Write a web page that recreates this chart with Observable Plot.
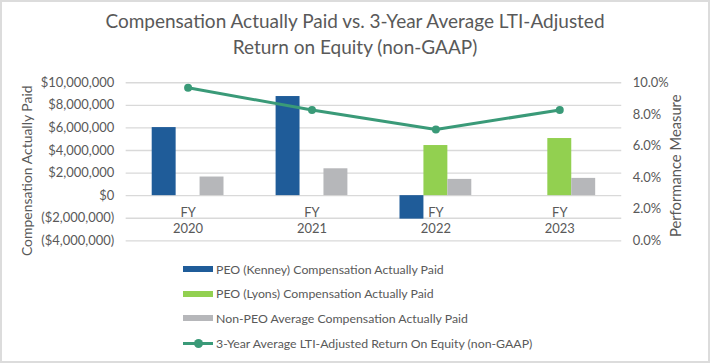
<!DOCTYPE html>
<html>
<head>
<meta charset="utf-8">
<script src="https://cdn.jsdelivr.net/npm/d3@7"></script>
<script src="https://cdn.jsdelivr.net/npm/@observablehq/plot@0.6"></script>
<style>
  html, body { margin: 0; padding: 0; background: #fff; }
  #wrap { position: relative; width: 710px; height: 363px; box-sizing: border-box; border: 2px solid #dcdcdc; overflow: hidden; font-family: Lato, sans-serif; color: #595959; }
  #title { position: absolute; left: 0; top: 6px; width: 706px; text-align: center; font-size: 19px; line-height: 26px; color: #595959; }
  #chart { position: absolute; left: -2px; top: -2px; }
  #legend { position: absolute; left: 181px; top: 255px; font-size: 12.3px; color: #595959; }
  .row { position: relative; height: 24.6px; display: flex; align-items: center; }
  .sw { width: 30px; height: 6px; margin-right: 3px; }
  .ln { width: 30px; height: 3px; margin-right: 3px; position: relative; }
  .ln::after { content: ""; position: absolute; left: 11px; top: -3px; width: 9px; height: 9px; border-radius: 50%; background: inherit; }
</style>
</head>
<body>
<div id="wrap">
  <div id="title">Compensation Actually Paid vs. 3-Year Average LTI-Adjusted<br>Return on Equity (non-GAAP)</div>
  <div id="chart"></div>
  <div id="legend"></div>
</div>
<script>
const years = ["2020", "2021", "2022", "2023"];
const kenney = [6030000, 8780000, -2080000, null];
const lyons = [null, null, 4440000, 5060000];
const nonPeo = [1650000, 2380000, 1440000, 1530000];
const roe = [9.68, 8.28, 7.04, 8.28];
const moneyTicks = [-4000000, -2000000, 0, 2000000, 4000000, 6000000, 8000000, 10000000];
const pctTicks = [0, 2, 4, 6, 8, 10];
const seriesNames = [
  "PEO (Kenney) Compensation Actually Paid",
  "PEO (Lyons) Compensation Actually Paid",
  "Non-PEO Average Compensation Actually Paid",
  "3-Year Average LTI-Adjusted Return On Equity (non-GAAP)"
];
const colors = ["#1f5c99", "#92d050", "#b6b7ba", "#3a9a78"];

const yMin = -4000000, yMax = 10000000;
const pctMin = 0, pctMax = 10;
const pctToMoney = p => yMin + (p - pctMin) / (pctMax - pctMin) * (yMax - yMin);
const moneyToPct = v => pctMin + (v - yMin) / (yMax - yMin) * (pctMax - pctMin);

const W = 710, H = 252;
const mL = 126, mR = 87, mT = 82.5, mB = 11;
const bw = (W - mL - mR) / years.length;
const barW = 24;

const rows = years.map((y, i) => ({year: y, kenney: kenney[i], lyons: lyons[i], nonPeo: nonPeo[i], roe: roe[i]}));
const money = d3.format(",");
const fmtMoney = v => v < 0 ? `($${money(-v)})` : `$${money(v)}`;

const chart = Plot.plot({
  width: W, height: H,
  marginLeft: mL, marginRight: mR, marginTop: mT, marginBottom: mB,
  style: {fontFamily: "Lato, sans-serif", fontSize: "13px", color: "#595959", background: "transparent", overflow: "visible"},
  x: {domain: years, padding: 0, round: false, axis: null},
  y: {domain: [yMin, yMax], axis: null},
  marks: [
    Plot.ruleY(moneyTicks, {stroke: "#d9d9d9", strokeWidth: 1.3}),
    Plot.barY(rows.filter(d => d.kenney != null), {x: "year", y: "kenney", fill: colors[0],
      insetLeft: bw / 2 - 1.5 * barW, insetRight: bw / 2 + 0.5 * barW}),
    Plot.barY(rows.filter(d => d.lyons != null), {x: "year", y: "lyons", fill: colors[1],
      insetLeft: bw / 2 - 0.5 * barW, insetRight: bw / 2 - 0.5 * barW}),
    Plot.barY(rows.filter(d => d.nonPeo != null), {x: "year", y: "nonPeo", fill: colors[2],
      insetLeft: bw / 2 + 0.5 * barW, insetRight: bw / 2 - 1.5 * barW}),
    Plot.axisY(moneyTicks, {anchor: "left", tickSize: 0, tickPadding: 12, tickFormat: fmtMoney, label: null, fontSize: 13}),
    Plot.axisY(pctTicks.map(pctToMoney), {anchor: "right", tickSize: 0, tickPadding: 11,
      tickFormat: v => moneyToPct(v).toFixed(1) + "%", label: null, fontSize: 13}),
    Plot.text(rows, {x: "year", y: () => 0, text: d => "FY\n" + d.year, dy: 24, lineAnchor: "middle",
      lineHeight: 1.25, fill: "#595959", fontSize: 13}),
    Plot.line(rows, {x: "year", y: d => pctToMoney(d.roe), stroke: colors[3], strokeWidth: 3}),
    Plot.dot(rows, {x: "year", y: d => pctToMoney(d.roe), r: 4, fill: colors[3]}),
    Plot.text(["Compensation Actually Paid"], {frameAnchor: "left", textAnchor: "middle", dx: -(mL - 27), dy: 9, rotate: -90,
      text: d => d, fontSize: 14, fill: "#595959"}),
    Plot.text(["Performance Measure"], {frameAnchor: "right", textAnchor: "middle", dx: 678 - (W - mR), dy: 4, rotate: -90,
      text: d => d, fontSize: 14.8, fill: "#595959"})
  ]
});
document.getElementById("chart").appendChild(chart);

const legend = document.getElementById("legend");
seriesNames.forEach((name, i) => {
  const row = document.createElement("div");
  row.className = "row";
  const sw = document.createElement("span");
  sw.className = i === 3 ? "ln" : "sw";
  sw.style.background = colors[i];
  const t = document.createElement("span");
  t.textContent = name;
  row.appendChild(sw);
  row.appendChild(t);
  legend.appendChild(row);
});
</script>
</body>
</html>
